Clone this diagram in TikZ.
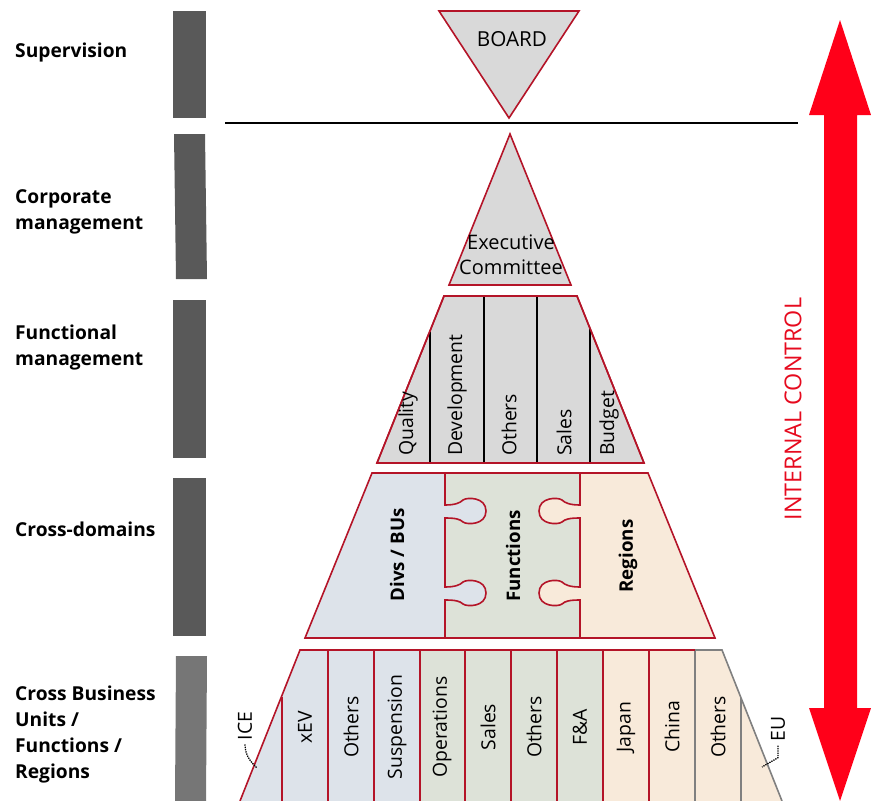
\documentclass[tikz,border=0pt]{standalone}
\usepackage{fontspec}
\setmainfont{Open Sans}
\definecolor{edgered}{RGB}{180,20,40}
\definecolor{arrowred}{RGB}{255,0,25}
\definecolor{textred}{RGB}{230,10,30}
\definecolor{bardark}{RGB}{89,89,89}
\definecolor{barlight}{RGB}{118,118,118}
\definecolor{boxgray}{RGB}{217,217,217}
\definecolor{divblue}{RGB}{221,227,234}
\definecolor{fungreen}{RGB}{221,226,216}
\definecolor{regbeige}{RGB}{248,234,218}
\definecolor{edgegray}{RGB}{128,128,128}
\begin{document}
\begin{tikzpicture}[x=1pt,y=-1pt,
  levellabel/.style={anchor=west,align=left,inner sep=0pt,
    font=\fontsize{19.2}{26}\selectfont\bfseries},
  levelbar/.style={fill=#1,draw=none},
  redframe/.style={draw=edgered,line width=1.6pt,line join=miter},
  grayframe/.style={draw=edgegray,line width=1.6pt},
  blackdiv/.style={draw=black,line width=1.4pt},
  vlabel/.style={rotate=90,inner sep=0pt,font=\fontsize{19.4}{22}\selectfont},
  vbold/.style={rotate=90,inner sep=0pt,font=\fontsize{18.7}{22}\selectfont\bfseries},
  leader/.style={densely dotted,line width=1.3pt,black},
  knobR/.style={insert path={
    .. controls +(10,0) and +(-3,3) .. ++(18,-5)
    .. controls +(4,-3) and +(0,-14) .. ++(23,11)
    .. controls +(0,14) and +(4,3) .. ++(-23,11)
    .. controls +(-3,-3) and +(10,0) .. ++(-18,-4)}},
  knobL/.style={insert path={
    .. controls +(-10,0) and +(3,3) .. ++(-18,-5)
    .. controls +(-4,-3) and +(0,-14) .. ++(-23,11)
    .. controls +(0,14) and +(-4,3) .. ++(23,11)
    .. controls +(3,-3) and +(-10,0) .. ++(18,-4)}}]
\useasboundingbox (0,0) rectangle (871,801);

% ---- level labels and bars on the left
\node[levellabel] (lSup) at (15,52.5) {Supervision};
\node[levellabel] (lCorp) at (15,212) {Corporate\\management};
\node[levellabel] (lFun) at (15,348) {Functional\\management};
\node[levellabel] (lCross) at (15,529.5) {Cross-domains};
\node[levellabel] (lBU) at (15,735) {Cross Business\\Units /\\Functions /\\Regions};

\fill[levelbar=bardark] (173,11) rectangle (206,118);
\fill[levelbar=bardark] (174,134) -- (205,134) -- (207,279) -- (176,279) -- cycle;
\fill[levelbar=bardark] (173,300) rectangle (206,458);
\fill[levelbar=bardark] (173,478) rectangle (206,636);
\fill[levelbar=barlight] (176,656) -- (207,656) -- (206,801) -- (175,801) -- cycle;

% ---- board
\filldraw[redframe,fill=boxgray] (439,11) -- (579,11) -- (509,118) -- cycle;
\node[font=\fontsize{20.7}{24}\selectfont] (board) at (512,39) {BOARD};

\draw[line width=1.8pt] (225,123) -- (798,123);

% ---- executive committee
\filldraw[redframe,fill=boxgray] (510,134) -- (571,285) -- (449,285) -- cycle;
\node[align=center,inner sep=0pt,font=\fontsize{20}{25}\selectfont] (exec) at (511,255) {Executive\\Committee};

% ---- functional management
\filldraw[redframe,fill=boxgray] (444,296) -- (577,296) -- (644,463) -- (377,463) -- cycle;
\draw[blackdiv] (430,331.5) -- (430,462);
\draw[blackdiv] (484,297) -- (484,462);
\draw[blackdiv] (537,297) -- (537,462);
\draw[blackdiv] (590,329) -- (590,462);
\draw[redframe] (444,296) -- (577,296) -- (644,463) -- (377,463) -- cycle;
\node[vlabel,anchor=west] (fQual) at (408,456) {Quality};
\node[vlabel,anchor=west] (fDev) at (457,456) {Development};
\node[vlabel,anchor=west] (fOth) at (509,456) {Others};
\node[vlabel,anchor=west] (fSal) at (564,456) {Sales};
\node[vlabel,anchor=west] (fBud) at (609,456) {Budget};

% ---- cross-domains puzzle
\fill[fungreen] (372,473) -- (648,473) -- (715,638) -- (305,638) -- cycle;
\fill[divblue] (372,473) -- (445,473) -- (445,505) [knobR] -- (445,587) [knobR] -- (445,638) -- (305,638) -- cycle;
\fill[regbeige] (648,473) -- (580,473) -- (580,505) [knobL] -- (580,587) [knobL] -- (580,638) -- (715,638) -- cycle;
\draw[redframe] (445,473) -- (445,505) [knobR] -- (445,587) [knobR] -- (445,638);
\draw[redframe] (580,473) -- (580,505) [knobL] -- (580,587) [knobL] -- (580,638);
\draw[redframe] (372,473) -- (648,473) -- (715,638) -- (305,638) -- cycle;
\node[vbold] (cDiv) at (397,555) {Divs / BUs};
\node[vbold] (cFun) at (513,556) {Functions};
\node[vbold] (cReg) at (628,556) {Regions};

% ---- cross business units / functions / regions
\fill[divblue] (300,650) -- (420,650) -- (420,801) -- (240,801) -- cycle;
\fill[fungreen] (420,650) -- (603,650) -- (603,801) -- (420,801) -- cycle;
\fill[regbeige] (603,650) -- (722,650) -- (782,801) -- (603,801) -- cycle;
\foreach \xx/\yy in {282/697,328/650,374/650,420/650,465/650,511/650,557/650,603/650,649/650}
  \draw[redframe] (\xx,\yy) -- (\xx,801);
\draw[grayframe] (695,650) -- (695,801);
\draw[grayframe] (741,697.8) -- (741,801);
\draw[redframe] (240,801) -- (300,650) -- (695,650);
\draw[grayframe] (695,650) -- (722,650) -- (782,801);

\node[vlabel] (bIce) at (245,726) {ICE};
\node[vlabel] (bXev) at (305,727) {xEV};
\node[vlabel] (bOth1) at (351,727) {Others};
\node[vlabel] (bSus) at (397,727) {Suspension};
\node[vlabel] (bOps) at (442,727) {Operations};
\node[vlabel] (bSal) at (488,727) {Sales};
\node[vlabel] (bOth2) at (534,727) {Others};
\node[vlabel] (bFA) at (580,727) {F\&A};
\node[vlabel] (bJap) at (626,727) {Japan};
\node[vlabel] (bChi) at (672,727) {China};
\node[vlabel] (bOth3) at (718,727) {Others};
\node[vlabel] (bEu) at (778,729) {EU};

\coordinate (iceEnd) at (257,768);
\coordinate (euEnd) at (762,767);
\draw[leader] ([yshift=-4pt]bIce.west) .. controls +(0,12) and +(-5,-5) .. (iceEnd);
\draw[leader] ([yshift=-4pt]bEu.west) -- +(0,12) -- (euEnd);

% ---- internal control arrow
\fill[arrowred] (840,20) -- (871,115) -- (857,115) -- (857,708) -- (871,708)
  -- (840,801) -- (809,708) -- (824,708) -- (824,115) -- (809,115) -- cycle;
\node[rotate=90,text=textred,inner sep=0pt,font=\fontsize{23.3}{26}\selectfont] (ctrl) at (793,409) {INTERNAL CONTROL};
\end{tikzpicture}
\end{document}
